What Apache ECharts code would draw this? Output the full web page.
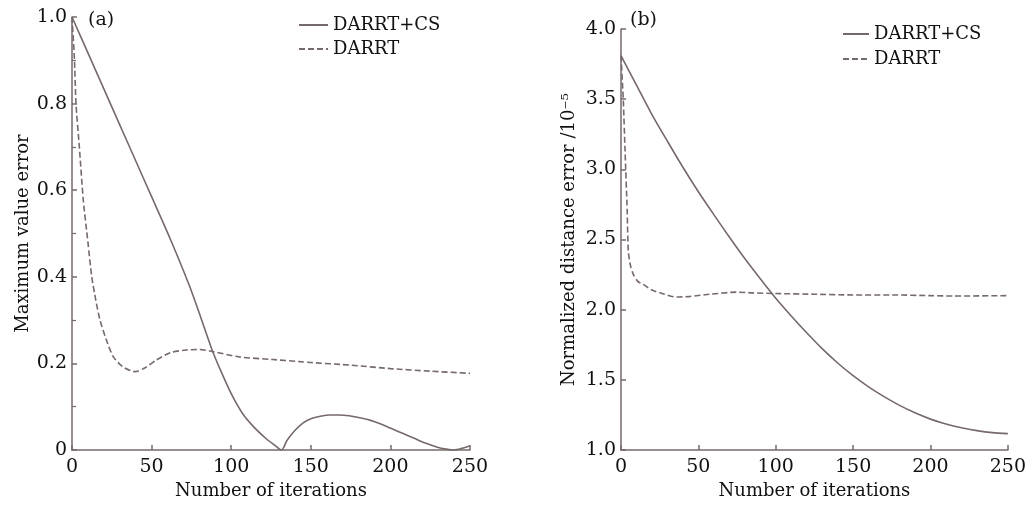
<!DOCTYPE html>
<html>
<head>
<meta charset="utf-8">
<script src="https://cdn.jsdelivr.net/npm/echarts@6/dist/echarts.min.js"></script>
<style>
html,body{margin:0;padding:0;background:#fff;}
#chart{width:1029px;height:505px;}
</style>
</head>
<body>
<div id="chart"></div>
<script>
// ---------- Data ----------
const seriesNames = ['DARRT+CS', 'DARRT'];
const xTicks = [0, 50, 100, 150, 200, 250];

// Panel (a): Maximum value error
const aCsX = [0, 10, 20, 30, 40, 50, 62, 74, 81, 88, 95, 101, 107, 114, 122, 127, 131.7, 135, 140, 145, 150, 156, 162, 168, 174, 180, 187, 194, 201, 208, 215, 222, 229, 235, 240, 245, 250];
const aCsY = [1.0, 0.917, 0.834, 0.751, 0.668, 0.585, 0.485, 0.377, 0.305, 0.231, 0.17, 0.123, 0.085, 0.054, 0.026, 0.012, 0.0, 0.022, 0.045, 0.062, 0.072, 0.078, 0.081, 0.081, 0.079, 0.075, 0.069, 0.06, 0.049, 0.038, 0.027, 0.016, 0.007, 0.002, 0.0, 0.004, 0.01];
const aDaX = [0, 1.5, 2.5, 4.6, 7.1, 10, 12.4, 15, 17.6, 22, 26, 32, 39.6, 46, 53, 62, 72, 80, 88.8, 105, 126, 143, 150, 175, 200, 225, 250];
const aDaY = [1.0, 0.905, 0.8, 0.7, 0.577, 0.48, 0.4, 0.345, 0.3, 0.25, 0.215, 0.192, 0.181, 0.19, 0.208, 0.225, 0.231, 0.232, 0.227, 0.215, 0.209, 0.204, 0.202, 0.196, 0.188, 0.182, 0.177];

// Panel (b): Normalized distance error /10^-5
const bCsX = [0, 10, 20, 30, 40, 50, 60, 70, 80, 90, 100, 110, 120, 130, 140, 150, 160, 170, 180, 190, 200, 210, 220, 230, 240, 250];
const bCsY = [3.81, 3.60, 3.39, 3.20, 3.015, 2.84, 2.677, 2.518, 2.364, 2.22, 2.081, 1.955, 1.835, 1.722, 1.62, 1.53, 1.45, 1.38, 1.318, 1.265, 1.22, 1.185, 1.158, 1.138, 1.124, 1.117];
const bDaX = [0, 1, 1.5, 2.6, 4, 4.7, 6, 8, 11, 14.4, 20, 25.2, 36, 45, 57.5, 74.7, 85, 100, 125, 150, 175, 200, 215, 250];
const bDaY = [3.81, 3.6, 3.49, 3.14, 2.7, 2.42, 2.32, 2.25, 2.2, 2.18, 2.14, 2.12, 2.09, 2.095, 2.11, 2.125, 2.12, 2.115, 2.11, 2.105, 2.105, 2.10, 2.097, 2.10];

const yTicksA = [0, 0.2, 0.4, 0.6, 0.8, 1.0];
const yTicksB = [1.0, 1.5, 2.0, 2.5, 3.0, 3.5, 4.0];

// ---------- Styling ----------
const INK = '#76696a';
const TXT = '#111111';
const FONT = 'DejaVu Serif';
const FS = 19;
const pairs = (xs, ys) => xs.map((x, i) => [x, ys[i]]);

function xAxisCfg(gi) {
  return {
    type: 'value', gridIndex: gi, min: xTicks[0], max: xTicks[xTicks.length - 1], interval: 50,
    name: 'Number of iterations', nameLocation: 'middle', nameGap: 32,
    nameTextStyle: { fontFamily: FONT, fontSize: 18, color: TXT },
    axisLine: { show: true, lineStyle: { color: INK, width: 1.5 } },
    axisTick: { show: true, inside: true, length: 5, lineStyle: { color: INK, width: 1.5 } },
    axisLabel: { fontFamily: FONT, fontSize: FS, color: TXT, margin: 8 },
    splitLine: { show: false }
  };
}

function yAxisCfg(gi, ticks, name, gap, minor) {
  return {
    type: 'value', gridIndex: gi, min: ticks[0], max: ticks[ticks.length - 1], interval: ticks[1] - ticks[0],
    name: name, nameLocation: 'middle', nameGap: gap,
    nameTextStyle: { fontFamily: FONT, fontSize: 18, color: TXT },
    axisLine: { show: true, lineStyle: { color: INK, width: 1.5 } },
    axisTick: { show: true, inside: true, length: 5, lineStyle: { color: INK, width: 1.5 } },
    minorTick: { show: minor, splitNumber: 2, length: 4, lineStyle: { color: INK, width: 1.2 } },
    axisLabel: {
      fontFamily: FONT, fontSize: FS, color: TXT, margin: 5,
      formatter: v => (v === 0 ? '0' : v.toFixed(1))
    },
    splitLine: { show: false }
  };
}

function lineSeries(name, xi, data, dashed) {
  return {
    name: name, type: 'line', xAxisIndex: xi, yAxisIndex: xi,
    data: data, symbol: 'none', showSymbol: false, smooth: 0.25,
    lineStyle: { color: INK, width: 1.6, type: dashed ? [6, 3] : 'solid' },
    itemStyle: { color: INK },
    z: dashed ? 2 : 3
  };
}

function legendCfg(left, top, width, gap, names) {
  return {
    orient: 'vertical', left: left, top: top,
    itemWidth: width, itemHeight: 14, itemGap: gap, itemTextGap: 5,
    itemStyle: { opacity: 0 },
    textStyle: { fontFamily: FONT, fontSize: 18, color: TXT, lineHeight: 20 },
    selectedMode: false,
    data: names.map(n => ({ name: n }))
  };
}

const chart = echarts.init(document.getElementById('chart'));
chart.setOption({
  backgroundColor: '#ffffff',
  animation: false,
  grid: [
    { left: 72, top: 17, width: 398, height: 433 },
    { left: 621, top: 29, width: 387, height: 423 }
  ],
  xAxis: [xAxisCfg(0), xAxisCfg(1)],
  yAxis: [
    yAxisCfg(0, yTicksA, 'Maximum value error', 40, true),
    yAxisCfg(1, yTicksB, 'Normalized distance error /10\u207B\u2075', 43, false)
  ],
  legend: [
    legendCfg(293, 10, 29, 4, seriesNames),
    legendCfg(837, 19, 26, 5, seriesNames.map(n => n + ' '))
  ],
  series: [
    lineSeries(seriesNames[0], 0, pairs(aCsX, aCsY), false),
    lineSeries(seriesNames[1], 0, pairs(aDaX, aDaY), true),
    lineSeries(seriesNames[0] + ' ', 1, pairs(bCsX, bCsY), false),
    lineSeries(seriesNames[1] + ' ', 1, pairs(bDaX, bDaY), true)
  ],
  graphic: [
    { type: 'text', left: 88, top: 11, style: { text: '(a)', font: '19px "DejaVu Serif"', fill: TXT } },
    { type: 'text', left: 630, top: 11, style: { text: '(b)', font: '19px "DejaVu Serif"', fill: TXT } }
  ]
});
</script>
</body>
</html>
